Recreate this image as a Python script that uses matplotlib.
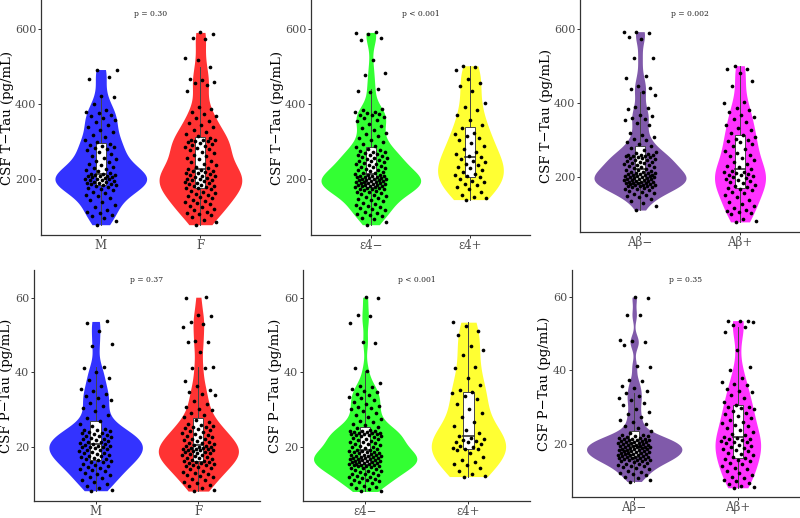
import numpy as np
import matplotlib.pyplot as plt

plt.rcParams["font.family"] = ["DejaVu Serif"]

# ---- CSF T-Tau (pg/mL), values ----
ttau_m = [78, 88, 96, 101, 104, 108, 112, 117, 124, 130, 138, 145, 150, 155, 158,
          162, 166, 170, 173, 176, 179, 181, 183, 184, 186, 187, 189, 190, 192, 193,
          195, 196, 198, 199, 200, 201, 203, 204, 205, 207, 208, 209, 210, 211, 212,
          214, 217, 220, 223, 226, 229, 232, 236, 240, 244, 248, 252, 257, 262, 267,
          272, 276, 280, 283, 286, 288, 290, 294, 299, 305, 311, 318, 325, 332, 338,
          345, 352, 358, 363, 368, 372, 376, 380, 384, 400, 418, 422, 468, 471, 490, 492]
ttau_f = [78, 84, 90, 98, 103, 106, 109, 113, 117, 121, 125, 129, 132, 136, 139,
          142, 145, 148, 151, 154, 157, 160, 163, 166, 169, 172, 175, 177, 178, 180,
          182, 184, 186, 188, 190, 192, 194, 196, 198, 200, 201, 203, 205, 207, 209,
          211, 213, 215, 217, 219, 220, 222, 223, 226, 229, 232, 236, 240, 244, 248,
          252, 256, 260, 264, 268, 272, 276, 279, 282, 285, 288, 291, 294, 297, 299,
          301, 302, 303, 304, 305, 310, 315, 320, 326, 332, 338, 344, 350, 356, 362,
          368, 374, 380, 386, 392, 435, 450, 455, 460, 463, 466, 500, 518, 522, 573,
          577, 588, 591]
ttau_e4neg = [78, 85, 92, 97, 101, 104, 107, 110, 113, 116, 119, 122, 125, 128, 131,
              134, 137, 140, 143, 146, 149, 152, 155, 158, 160, 162, 164, 166, 168, 170,
              172, 173, 174, 175, 177, 178, 179, 180, 181, 182, 183, 184, 185, 186, 187,
              188, 189, 190, 191, 192, 193, 194, 195, 196, 197, 198, 199, 200, 201, 202,
              203, 204, 205, 206, 207, 208, 209, 210, 211, 213, 215, 217, 219, 221, 223,
              225, 227, 229, 231, 233, 235, 237, 239, 241, 243, 245, 247, 249, 251, 253,
              255, 257, 259, 261, 263, 265, 267, 269, 271, 273, 275, 277, 279, 284, 289,
              294, 299, 304, 309, 314, 319, 324, 330, 336, 342, 348, 354, 358, 362, 366,
              370, 372, 374, 376, 378, 380, 383, 386, 432, 436, 440, 478, 482, 518, 572,
              577, 588, 590, 591]
ttau_e4pos = [145, 148, 152, 158, 165, 172, 178, 183, 187, 191, 195, 200, 204, 207,
              210, 214, 218, 223, 228, 232, 236, 240, 245, 249, 253, 258, 262, 266, 272,
              280, 288, 296, 304, 310, 316, 320, 324, 335, 345, 358, 372, 383, 392, 402,
              434, 448, 456, 466, 490, 498, 502]
ttau_abneg = [110, 121, 129, 135, 140, 144, 148, 151, 154, 157, 160, 162, 164, 166,
              168, 170, 172, 173, 174, 175, 176, 177, 178, 179, 180, 181, 182, 183, 183,
              184, 185, 186, 187, 188, 189, 190, 191, 192, 193, 194, 195, 196, 197, 198,
              199, 200, 201, 202, 203, 204, 205, 206, 207, 208, 209, 210, 211, 212, 214,
              216, 218, 219, 221, 223, 225, 227, 229, 231, 232, 234, 236, 238, 240, 241,
              243, 245, 246, 248, 250, 251, 252, 254, 255, 256, 257, 258, 259, 260, 262,
              263, 268, 273, 278, 283, 288, 293, 298, 303, 308, 313, 318, 340, 345, 352,
              356, 360, 364, 368, 384, 386, 388, 422, 428, 436, 440, 444, 468, 472, 520,
              521, 572, 577, 588, 590, 592]
ttau_abpos = [78, 80, 85, 98, 101, 104, 107, 110, 115, 120, 126, 132, 138, 144, 150,
              155, 160, 164, 167, 170, 173, 176, 179, 182, 185, 188, 191, 194, 197, 200,
              202, 204, 206, 208, 210, 212, 214, 216, 220, 225, 230, 235, 240, 245, 250,
              255, 260, 265, 270, 276, 282, 288, 293, 297, 300, 303, 306, 312, 318, 325,
              333, 340, 348, 356, 362, 368, 374, 380, 385, 398, 402, 446, 458, 480, 490,
              492, 500]

# ---- CSF P-Tau (pg/mL), values ----
ptau_m = [8.2, 8.5, 9.0, 9.6, 10.1, 10.5, 11.0, 11.5, 12.0, 12.3, 12.6, 13.0, 13.4,
          13.7, 14.0, 14.3, 14.6, 14.9, 15.2, 15.5, 15.8, 16.0, 16.2, 16.4, 16.6, 16.8,
          17.0, 17.2, 17.4, 17.6, 17.8, 18.0, 18.2, 18.4, 18.6, 18.8, 19.0, 19.2, 19.4,
          19.6, 19.8, 19.9, 20.0, 20.1, 20.2, 20.4, 20.6, 20.8, 21.0, 21.2, 21.4, 21.6,
          21.8, 22.0, 22.2, 22.4, 22.6, 22.8, 23.0, 23.2, 23.4, 23.6, 23.8, 24.0, 24.2,
          24.4, 24.6, 24.8, 25.5, 26.2, 27.0, 27.8, 28.6, 29.5, 30.3, 31.0, 31.8, 32.5,
          33.0, 33.5, 34.2, 35.0, 35.6, 36.3, 38.0, 38.5, 40.0, 41.0, 41.4, 47.0, 47.5,
          51.0, 53.3, 53.6]
ptau_f = [8.1, 8.5, 9.0, 9.4, 9.8, 10.2, 10.6, 11.0, 11.4, 11.8, 12.1, 12.4, 12.7,
          13.0, 13.3, 13.6, 13.9, 14.2, 14.5, 14.8, 15.0, 15.2, 15.4, 15.6, 15.7, 15.8,
          15.9, 16.1, 16.3, 16.5, 16.7, 16.9, 17.1, 17.3, 17.5, 17.7, 17.9, 18.0, 18.2,
          18.4, 18.5, 18.7, 18.9, 19.0, 19.1, 19.2, 19.3, 19.4, 19.5, 19.6, 19.7, 19.8,
          19.9, 20.1, 20.3, 20.5, 20.7, 20.9, 21.1, 21.3, 21.5, 21.8, 22.0, 22.2, 22.5,
          22.7, 23.0, 23.2, 23.5, 23.7, 24.0, 24.2, 24.5, 24.7, 25.0, 25.2, 25.4, 25.6,
          25.8, 26.0, 26.5, 27.2, 28.0, 28.5, 29.0, 29.8, 30.2, 30.6, 31.5, 32.3, 33.8,
          34.2, 34.6, 35.2, 36.4, 37.5, 41.0, 41.2, 41.4, 45.5, 48.0, 48.2, 48.4, 52.2,
          53.0, 53.4, 55.0, 55.2, 60.0, 60.1]
ptau_e4neg = [8.0, 8.2, 8.6, 9.0, 9.3, 9.6, 9.9, 10.2, 10.5, 10.8, 11.0, 11.2, 11.4,
              11.6, 11.8, 12.0, 12.2, 12.4, 12.6, 12.8, 13.0, 13.2, 13.4, 13.6, 13.8,
              14.0, 14.2, 14.4, 14.6, 14.7, 14.8, 14.9, 15.0, 15.1, 15.2, 15.3, 15.4,
              15.5, 15.6, 15.7, 15.8, 15.9, 16.0, 16.1, 16.2, 16.3, 16.4, 16.5, 16.6,
              16.7, 16.8, 16.9, 17.0, 17.1, 17.2, 17.3, 17.4, 17.5, 17.6, 17.7, 17.8,
              17.9, 18.0, 18.2, 18.4, 18.5, 18.6, 18.7, 18.8, 18.9, 19.1, 19.2, 19.4,
              19.6, 19.8, 20.0, 20.2, 20.4, 20.6, 20.8, 21.0, 21.2, 21.4, 21.6, 21.8,
              22.0, 22.2, 22.4, 22.6, 22.8, 23.0, 23.1, 23.2, 23.3, 23.4, 23.5, 23.6,
              23.7, 23.8, 23.9, 24.0, 24.1, 24.2, 24.3, 24.4, 25.0, 25.4, 25.8, 26.2,
              26.6, 27.0, 27.5, 28.0, 28.5, 29.0, 29.5, 30.0, 30.3, 30.6, 31.0, 31.5,
              32.0, 32.5, 33.0, 33.4, 33.8, 34.2, 34.6, 35.0, 35.5, 36.0, 36.3, 37.2,
              40.2, 41.0, 47.8, 48.2, 53.2, 55.0, 55.2, 60.0, 60.1]
ptau_e4pos = [12.0, 12.2, 12.6, 13.5, 14.3, 15.0, 15.5, 15.8, 16.5, 17.2, 18.4, 19.0,
              19.3, 19.5, 19.6, 19.8, 20.3, 20.8, 21.2, 21.4, 21.6, 21.9, 22.2, 22.4,
              22.8, 23.6, 24.5, 25.5, 26.5, 28.0, 29.0, 30.0, 31.5, 32.8, 33.6, 34.3,
              34.6, 35.2, 36.5, 38.5, 41.0, 41.5, 44.5, 46.0, 47.0, 50.0, 51.0, 52.3, 53.4]
ptau_abneg = [9.7, 10.1, 10.6, 11.0, 11.4, 11.8, 12.1, 12.4, 12.7, 13.0, 13.3, 13.6,
              13.8, 14.0, 14.2, 14.4, 14.6, 14.8, 15.0, 15.2, 15.4, 15.5, 15.6, 15.7,
              15.8, 15.9, 16.0, 16.1, 16.2, 16.3, 16.4, 16.5, 16.6, 16.7, 16.8, 16.9,
              17.0, 17.1, 17.2, 17.3, 17.4, 17.5, 17.6, 17.7, 17.8, 17.9, 18.0, 18.1,
              18.2, 18.3, 18.4, 18.5, 18.6, 18.7, 18.8, 18.9, 19.0, 19.05, 19.1, 19.2,
              19.3, 19.4, 19.5, 19.6, 19.7, 19.8, 19.9, 20.0, 20.1, 20.2, 20.3, 20.4,
              20.5, 20.6, 20.7, 20.8, 20.9, 21.0, 21.1, 21.2, 21.3, 21.4, 21.5, 21.7,
              21.9, 22.0, 22.2, 22.4, 22.5, 23.0, 23.6, 24.2, 24.8, 25.4, 26.0, 26.5,
              27.2, 28.0, 28.6, 29.4, 30.5, 31.2, 32.0, 32.5, 33.0, 33.8, 34.5, 35.2,
              35.8, 37.0, 37.4, 41.0, 41.2, 47.0, 47.8, 48.0, 48.3, 55.0, 55.2, 59.8, 60.0]
ptau_abpos = [8.0, 8.2, 8.5, 8.9, 9.4, 9.8, 10.2, 10.6, 11.0, 11.5, 12.0, 12.5, 13.0,
              13.5, 14.0, 14.4, 14.8, 15.2, 15.6, 15.9, 16.2, 16.5, 16.8, 17.2, 17.6,
              18.0, 18.3, 18.6, 18.9, 19.2, 19.5, 19.8, 20.1, 20.4, 20.6, 20.8, 21.0,
              21.2, 21.4, 21.5, 21.9, 22.3, 22.8, 23.3, 23.8, 24.3, 24.8, 25.2, 25.6,
              26.0, 26.5, 27.0, 27.5, 28.0, 28.5, 29.0, 29.4, 29.7, 30.0, 30.1, 30.6,
              31.5, 32.4, 33.2, 34.0, 34.5, 35.0, 36.0, 36.4, 36.8, 38.0, 40.0, 41.0,
              45.5, 50.5, 51.8, 52.5, 53.2, 53.4, 53.5, 53.6]

sex_labels = ["M", "F"]
apoe_labels = ["ε4−", "ε4+"]
amyloid_labels = ["Aβ−", "Aβ+"]
p_ttau = ["p = 0.30", "p < 0.001", "p = 0.002"]
p_ptau = ["p = 0.37", "p < 0.001", "p = 0.35"]

pair_colors = [["#3333FF", "#FF3333"], ["#33FF33", "#FFFF33"], ["#805AAA", "#FF33FF"]]
max_widths = {"ttau": [[0.92, 0.83], [1.0, 0.66], [0.92, 0.51]],
              "ptau": [[0.91, 0.78], [1.0, 0.72], [0.92, 0.44]]}


def kde(values, grid):
    v = np.asarray(values, float)
    q75, q25 = np.percentile(v, [75, 25])
    bw = 0.9 * min(v.std(ddof=1), (q75 - q25) / 1.34) * len(v) ** -0.2
    z = (grid[:, None] - v[None, :]) / bw
    return np.exp(-0.5 * z ** 2).sum(axis=1)


def draw_panel(ax, groups, labels, colors, widths, ptext, ylabel, ylim, yticks,
               ptext_y, label_offset_px):
    for i, (vals, col, w) in enumerate(zip(groups, colors, widths)):
        x0 = i + 1
        v = np.asarray(vals, float)
        grid = np.linspace(v.min(), v.max(), 512)
        dens = kde(v, grid)
        half = dens / dens.max() * w / 2
        ax.fill_betweenx(grid, x0 - half, x0 + half, color=col, lw=0, zorder=1)

        q1, med, q3 = np.percentile(v, [25, 50, 75])
        iqr = q3 - q1
        lo = v[v >= q1 - 1.5 * iqr].min()
        hi = v[v <= q3 + 1.5 * iqr].max()
        ax.plot([x0, x0], [lo, q1], color="#444444", lw=0.7, zorder=2)
        ax.plot([x0, x0], [q3, hi], color="#444444", lw=0.7, zorder=2)
        ax.add_patch(plt.Rectangle((x0 - 0.05, q1), 0.1, q3 - q1, facecolor="white",
                                   edgecolor="#444444", lw=0.7, zorder=2))
        ax.plot([x0 - 0.05, x0 + 0.05], [med, med], color="#333333", lw=1.2, zorder=2)

        jitter = ((np.arange(len(v)) * 0.6180339887 + 0.37) % 1.0 - 0.5) * 0.32
        ax.scatter(x0 + jitter, v, s=7, color="black", lw=0, zorder=3)

    ax.text(1.5, ptext_y, ptext, ha="center", va="center", fontsize=5.5, color="#222222")
    ax.set_xlim(0.4, 2.6)
    ax.set_ylim(*ylim)
    ax.set_yticks(yticks)
    ax.set_xticks([1, 2])
    ax.set_xticklabels(labels)
    ax.set_ylabel(ylabel, fontsize=9.5)
    width_px = ax.get_position().width * 800
    ax.yaxis.set_label_coords(-label_offset_px / width_px, 0.5)
    for side in ["top", "right"]:
        ax.spines[side].set_visible(False)
    for side in ["left", "bottom"]:
        ax.spines[side].set_color("#333333")
        ax.spines[side].set_linewidth(0.9)
    ax.tick_params(colors="#333333", labelcolor="#4D4D4D", length=2, width=0.7, pad=1.5)
    ax.tick_params(axis="y", labelsize=8)
    ax.tick_params(axis="x", labelsize=8.5, pad=1)


fig = plt.figure(figsize=(8, 5.18), dpi=100)
top_boxes = [[0.05125, 0.5463, 0.274, 0.4537], [0.3888, 0.5463, 0.274, 0.4537],
             [0.725, 0.552, 0.275, 0.448]]
bot_boxes = [[0.0425, 0.0325, 0.2825, 0.4463], [0.379, 0.0325, 0.284, 0.4463],
             [0.715, 0.040, 0.285, 0.4387]]

ttau_groups = [[ttau_m, ttau_f], [ttau_e4neg, ttau_e4pos], [ttau_abneg, ttau_abpos]]
ptau_groups = [[ptau_m, ptau_f], [ptau_e4neg, ptau_e4pos], [ptau_abneg, ptau_abpos]]
label_sets = [sex_labels, apoe_labels, amyloid_labels]

for k in range(3):
    ax = fig.add_axes(top_boxes[k])
    draw_panel(ax, ttau_groups[k], label_sets[k], pair_colors[k], max_widths["ttau"][k],
               p_ttau[k], "CSF T−Tau (pg/mL)", (50.5, 677.5), [200, 400, 600], 641, 27)
    ax = fig.add_axes(bot_boxes[k])
    draw_panel(ax, ptau_groups[k], label_sets[k], pair_colors[k], max_widths["ptau"][k],
               p_ptau[k], "CSF P−Tau (pg/mL)", (5.4, 67.4), [20, 40, 60], 64.6, 21)

fig.savefig("out.png", dpi=100)
